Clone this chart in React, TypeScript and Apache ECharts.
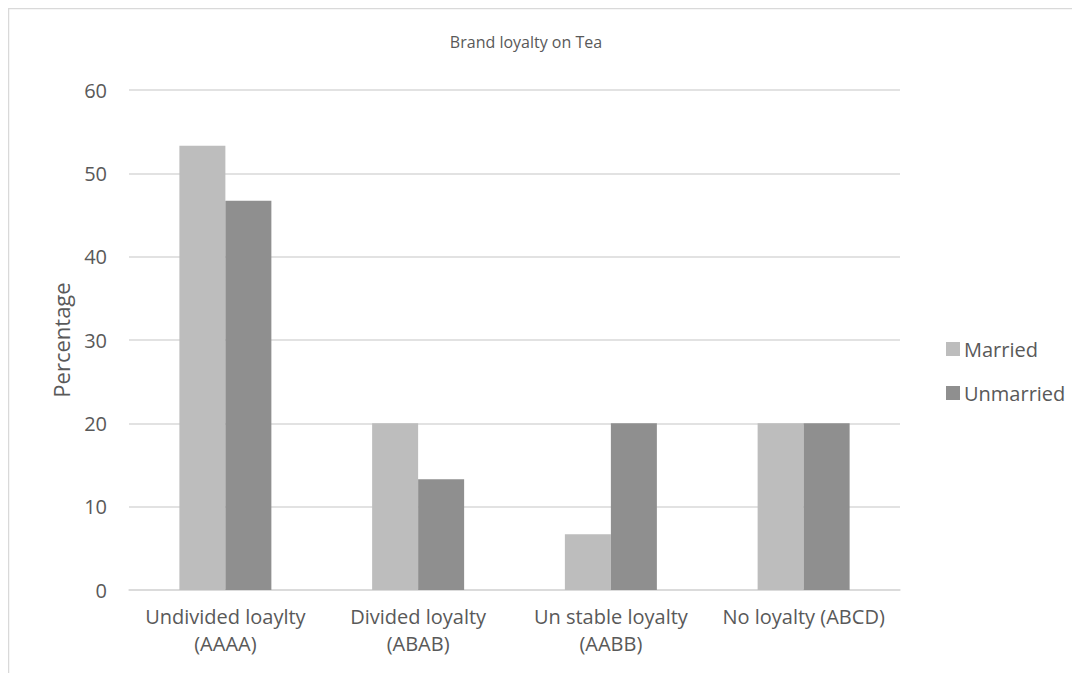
import React, { useEffect, useRef } from "react";
import * as echarts from "echarts";

const categories = ["Undivided loaylty\n(AAAA)", "Divided loyalty\n(ABAB)", "Un stable loyalty\n(AABB)", "No loyalty (ABCD)"];
const married = [53.3, 20, 6.7, 20];
const unmarried = [46.7, 13.3, 20, 20];
const yTicks = { min: 0, max: 60, interval: 10 };

export default function App() {
  const ref = useRef<HTMLDivElement>(null);
  useEffect(() => {
    const chart = echarts.init(ref.current!, null, { renderer: "svg" });
    const font = "'Open Sans', 'Noto Sans', sans-serif";
    chart.setOption({
      animation: false,
      backgroundColor: "#ffffff",
      textStyle: { fontFamily: font },
      graphic: [
        {
          type: "rect",
          shape: { x: 0.5, y: 0.5, width: 1200, height: 800 },
          style: { fill: "none", stroke: "#D9D9D9", lineWidth: 1.5 },
          silent: true,
        },
      ],
      title: {
        text: "Brand loyalty on Tea",
        left: 513,
        top: 21,
        textAlign: "center",
        textStyle: { fontFamily: font, fontSize: 16, fontWeight: "normal", color: "#595959" },
      },
      legend: {
        orient: "vertical",
        left: 933,
        top: 326,
        itemWidth: 14,
        itemHeight: 14,
        itemGap: 24,
        icon: "rect",
        textStyle: { fontFamily: font, fontSize: 20, color: "#595959", padding: [0, 0, 0, -1] },
        data: ["Married", "Unmarried"],
      },
      grid: { left: 121, right: 180, top: 82, bottom: 83, containLabel: false },
      xAxis: {
        type: "category",
        data: categories,
        axisLine: { lineStyle: { color: "#D9D9D9", width: 1.5 } },
        axisTick: { show: false },
        axisLabel: { fontFamily: font, fontSize: 20, color: "#595959", margin: 13, lineHeight: 27, interval: 0 },
      },
      yAxis: {
        type: "value",
        min: yTicks.min,
        max: yTicks.max,
        interval: yTicks.interval,
        name: "Percentage",
        nameLocation: "middle",
        nameGap: 57,
        nameTextStyle: { fontFamily: font, fontSize: 22, color: "#595959" },
        axisLine: { show: false },
        axisTick: { show: false },
        axisLabel: { fontFamily: font, fontSize: 20, color: "#595959", margin: 22 },
        splitLine: { lineStyle: { color: "#D9D9D9", width: 1.5 } },
      },
      series: [
        {
          name: "Married",
          type: "bar",
          data: married,
          barWidth: 46,
          barGap: "0%",
          itemStyle: { color: "#BDBDBD" },
        },
        {
          name: "Unmarried",
          type: "bar",
          data: unmarried,
          barWidth: 46,
          barGap: "0%",
          itemStyle: { color: "#8F8F8F" },
        },
      ],
    });
    return () => chart.dispose();
  }, []);
  return <div ref={ref} style={{ width: 1072, height: 665 }} />;
}
